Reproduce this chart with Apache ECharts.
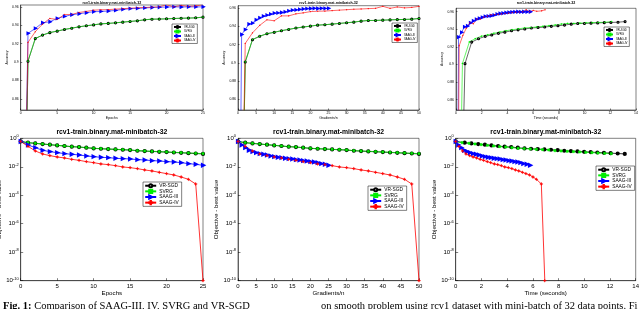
<!DOCTYPE html>
<html><head><meta charset="utf-8">
<script src="https://cdn.jsdelivr.net/npm/echarts@6/dist/echarts.min.js"></script>
<style>html,body{margin:0;padding:0;background:#fff}#c{width:640px;height:309px}</style>
</head><body><div id="c"></div>
<script>
const methods = ['VR-SGD', 'SVRG', 'SAAG-III', 'SAAG-IV'];
const plotTitle = 'rcv1-train.binary.mat-minibatch-32';
const xNames = ['Epochs', 'Gradients/n', 'Time (seconds)'];
const accTicks = [0.86, 0.88, 0.9, 0.92, 0.94, 0.96];
const accTickLabels = ['0.86', '0.88', '0.9', '0.92', '0.94', '0.96'];
const objTicks = [1e-10, 1e-8, 1e-6, 1e-4, 1e-2, 1];
const captionLeft = 'Comparison of SAAG-III, IV, SVRG and VR-SGD';
const captionRight = 'on smooth problem using rcv1 dataset with mini-batch of 32 data points. Fi';

const epochs = [0,1,2,3,4,5,6,7,8,9,10,11,12,13,14,15,16,17,18,19,20,21,22,23,24,25];
const gradsTwo = [0,2,4,6,8,10,12,14,16,18,20,22,24,26,28,30,32,34,36,38,40,42,44,46,48,50];

const timeVRSGD = [0,0.70,1.22,1.75,2.27,2.78,3.30,3.80,4.32,4.83,5.35,5.86,6.38,6.90,7.41,7.93,8.44,8.96,9.47,9.99,10.50,11.02,11.53,12.05,12.60,13.15];
const timeSVRG  = [0,0.50,1.04,1.50,1.98,2.46,2.94,3.41,3.89,4.37,4.85,5.33,5.80,6.28,6.76,7.24,7.72,8.20,8.67,9.15,9.63,10.11,10.59,11.06,11.58,12.10];
const timeSAAG3 = [0,0.20,0.43,0.66,0.89,1.12,1.35,1.58,1.81,2.04,2.27,2.50,2.73,2.96,3.19,3.42,3.65,3.88,4.11,4.34,4.57,4.80,5.03,5.26,5.52,5.78];
const timeSAAG4 = [0,0.25,0.53,0.80,1.08,1.35,1.63,1.90,2.17,2.45,2.72,3.00,3.27,3.54,3.82,4.09,4.37,4.64,4.91,5.19,5.46,5.74,6.01,6.28,6.66,6.93];

const accVRSGD = [0.47,0.9010,0.9255,0.9293,0.9320,0.9336,0.9354,0.9368,0.9383,0.9394,0.9404,0.9415,0.9420,0.9426,0.9434,0.9441,0.9448,0.9459,0.9466,0.9467,0.9470,0.9473,0.9476,0.9478,0.9481,0.9488];
const accSVRG  = [0.47,0.9012,0.9257,0.9294,0.9322,0.9337,0.9355,0.9369,0.9384,0.9395,0.9405,0.9416,0.9420,0.9427,0.9434,0.9442,0.9449,0.9460,0.9467,0.9467,0.9470,0.9474,0.9476,0.9478,0.9480,0.9489];
const accSAAG3 = [0.47,0.9312,0.9366,0.9427,0.9438,0.9474,0.9496,0.9514,0.9525,0.9536,0.9547,0.9550,0.9554,0.9561,0.9572,0.9580,0.9583,0.9588,0.9593,0.9596,0.9598,0.9600,0.9598,0.9600,0.9599,0.9600];
const accSAAG4 = [0.47,0.9214,0.9330,0.9413,0.9474,0.9463,0.9517,0.9517,0.9539,0.9550,0.9564,0.9568,0.9570,0.9575,0.9580,0.9585,0.9590,0.9593,0.9597,0.9600,0.9622,0.9600,0.9615,0.9605,0.9610,0.9622];

const objVRSGD = [0.6,0.49,0.44,0.395,0.355,0.318,0.287,0.257,0.243,0.218,0.196,0.185,0.175,0.166,0.157,0.149,0.134,0.126,0.119,0.113,0.107,0.101,0.0955,0.0905,0.0855,0.080];
const objSVRG  = [0.6,0.497,0.446,0.400,0.359,0.322,0.290,0.260,0.246,0.221,0.199,0.188,0.178,0.169,0.160,0.152,0.136,0.129,0.122,0.116,0.110,0.104,0.0984,0.0933,0.0885,0.0838];
const objSAAG3 = [0.6,0.340,0.221,0.144,0.116,0.0985,0.0838,0.0752,0.0676,0.0574,0.0516,0.0463,0.0439,0.0394,0.0373,0.0354,0.0318,0.0301,0.0270,0.0256,0.0230,0.0218,0.0195,0.0166,0.0149,0.0127];
const objSAAG4 = [0.6,0.274,0.129,0.0794,0.0607,0.0489,0.0416,0.0335,0.0285,0.0230,0.0195,0.0158,0.0142,0.0120,0.0097,0.0087,0.0074,0.0060,0.0051,0.0041,0.0033,0.00266,0.00192,0.00132,0.00062,1e-10];

const colors = ['#000000', '#00ee00', '#0000ff', '#ff0000'];
const plusPath = 'path://M-1,-0.14H1V0.14H-1Z M-0.14,-1H0.14V1H-0.14Z';
const symbols = ['emptyCircle', 'rect', 'emptyTriangle', plusPath];
const rotates = [0, 0, -90, 0];

const panelX = [
  [epochs, epochs, epochs, epochs],
  [gradsTwo, gradsTwo, epochs, gradsTwo],
  [timeVRSGD, timeSVRG, timeSAAG3, timeSAAG4]
];
const accY = [accVRSGD, accSVRG, accSAAG3, accSAAG4];
const objY = [objVRSGD, objSVRG, objSAAG3, objSAAG4];

const FONT = 'Liberation Sans';
const grids = [
  {left: 20.7, top: 5, width: 182.3, height: 105},
  {left: 238, top: 5.7, width: 181, height: 104.3},
  {left: 456, top: 8.3, width: 180, height: 101.7},
  {left: 20.7, top: 138.3, width: 182.3, height: 142.4},
  {left: 238, top: 138.3, width: 181, height: 142.4},
  {left: 455.7, top: 138.3, width: 180, height: 142.4}
].map(g => Object.assign({show: true, borderColor: '#000', borderWidth: 0.5, backgroundColor: '#fff', containLabel: false, outerBoundsMode: 'none'}, g));

const xMax = [25, 50, 14], xInt = [5, 5, 2];
const yTopMin = [0.848, 0.8482, 0.8483], yTopMax = [0.962, 0.9629, 0.9639];

const xAxes = [], yAxes = [], series = [], titles = [], legends = [];
for (let p = 0; p < 6; p++) {
  const row = p < 3 ? 0 : 1, col = p % 3;
  const small = row === 0;
  xAxes.push({
    type: 'value', gridIndex: p, min: 0, max: xMax[col], interval: xInt[col],
    name: xNames[col], nameLocation: 'middle', nameGap: small ? 6 : 8.5,
    nameTextStyle: {fontSize: small ? 3.6 : 6.2, color: '#000', fontFamily: FONT},
    axisLine: {show: true, onZero: false, lineStyle: {color: '#000', width: 0.5}},
    axisTick: {show: true, inside: true, length: small ? 1.5 : 2.5, lineStyle: {color: '#000', width: 0.5}},
    axisLabel: {fontSize: small ? 3.4 : 6, color: '#000', margin: small ? 1.5 : 2.5, fontFamily: FONT},
    splitLine: {show: false}
  });
  if (small) {
    yAxes.push({
      type: 'value', gridIndex: p, min: yTopMin[col], max: yTopMax[col],
      name: 'Accuracy', nameLocation: 'middle', nameGap: 8,
      nameTextStyle: {fontSize: 3.4, color: '#000', fontFamily: FONT},
      axisLine: {show: true, onZero: false, lineStyle: {color: '#000', width: 0.5}},
      axisTick: {show: true, inside: true, length: 1.5, customValues: accTicks, lineStyle: {color: '#000', width: 0.5}},
      axisLabel: {fontSize: 3.4, color: '#000', margin: 2, fontFamily: FONT, customValues: accTicks,
        formatter: v => { const k = accTicks.findIndex(t => Math.abs(t - v) < 1e-6); return k >= 0 ? accTickLabels[k] : ''; }},
      splitLine: {show: false}
    });
  } else {
    yAxes.push({
      type: 'log', logBase: 10, gridIndex: p, min: 1e-10, max: 1,
      name: 'Objective - best value', nameLocation: 'middle', nameGap: 12.5,
      nameTextStyle: {fontSize: 6.2, color: '#000', fontFamily: FONT},
      axisLine: {show: true, onZero: false, lineStyle: {color: '#000', width: 0.5}},
      axisTick: {show: true, inside: true, length: 2.5, customValues: objTicks, lineStyle: {color: '#000', width: 0.5}},
      minorTick: {show: false},
      axisLabel: {color: '#000', margin: 2, fontFamily: FONT, customValues: objTicks,
        formatter: v => '{b|10}{s|' + Math.round(Math.log10(v)) + '}',
        rich: {b: {fontSize: 6, fontFamily: FONT, color: '#000'}, s: {fontSize: 4, fontFamily: FONT, color: '#000', verticalAlign: 'top', padding: [0, 0, 4, 0]}}},
      splitLine: {show: false}
    });
  }
  for (let m = 0; m < 4; m++) {
    const xs = panelX[col][m];
    const ys = small ? accY[m] : objY[m];
    series.push({
      type: 'line', name: methods[m], xAxisIndex: p, yAxisIndex: p,
      data: xs.map((x, i) => [x, ys[i]]),
      symbol: symbols[m], symbolRotate: rotates[m], symbolSize: small ? 1.1 : (m === 3 ? 2.8 : 2.2),
      showSymbol: true, clip: true, silent: true, animation: false,
      lineStyle: {color: colors[m], width: small ? 0.6 : 0.8},
      itemStyle: {color: colors[m], borderColor: colors[m], borderWidth: small ? 0.25 : 0.45}
    });
  }
  const g = grids[p];
  titles.push({
    text: plotTitle, left: g.left + g.width / 2, top: small ? 0.5 : 128.8, textAlign: 'center', padding: 0,
    textStyle: {fontSize: small ? 3.6 : 6.8, fontWeight: 'bold', color: '#000', fontFamily: FONT}
  });
}
const legendPos = [
  {left: 172, top: 24, s: true}, {left: 392, top: 23, s: true}, {left: 604, top: 27, s: true},
  {left: 143, top: 182, s: false}, {left: 368, top: 186, s: false}, {left: 596, top: 166, s: false}
];
legendPos.forEach(l => legends.push({
  data: methods, orient: 'vertical', left: l.left, top: l.top,
  padding: l.s ? [1, 2, 1, 1] : [1.2, 3, 1.2, 1.2],
  itemWidth: l.s ? 7 : 11, itemHeight: l.s ? 2.4 : 3.8, itemGap: 0.6,
  textStyle: {fontSize: l.s ? 2.8 : 4.8, color: '#000', fontFamily: FONT, padding: [0, 0, 0, -2]},
  backgroundColor: '#fff', borderColor: '#000', borderWidth: 0.5, borderRadius: 0,
  selectedMode: false
}));

const chart = echarts.init(document.getElementById('c'), null, {renderer: 'canvas', width: 640, height: 309});
chart.setOption({
  backgroundColor: '#fff', animation: false,
  title: titles, legend: legends, grid: grids, xAxis: xAxes, yAxis: yAxes, series: series,
  graphic: [
    {type: 'text', left: 3, top: 300.5, style: {text: '{b|Fig. 1:} ' + captionLeft, fontSize: 10.5, fontFamily: 'Liberation Serif', fill: '#000',
      rich: {b: {fontWeight: 'bold', fontSize: 10.5, fontFamily: 'Liberation Serif'}}}},
    {type: 'text', left: 321, top: 300.5, style: {text: captionRight, fontSize: 10.5, fontFamily: 'Liberation Serif', fill: '#000'}}
  ]
});
</script></body></html>
